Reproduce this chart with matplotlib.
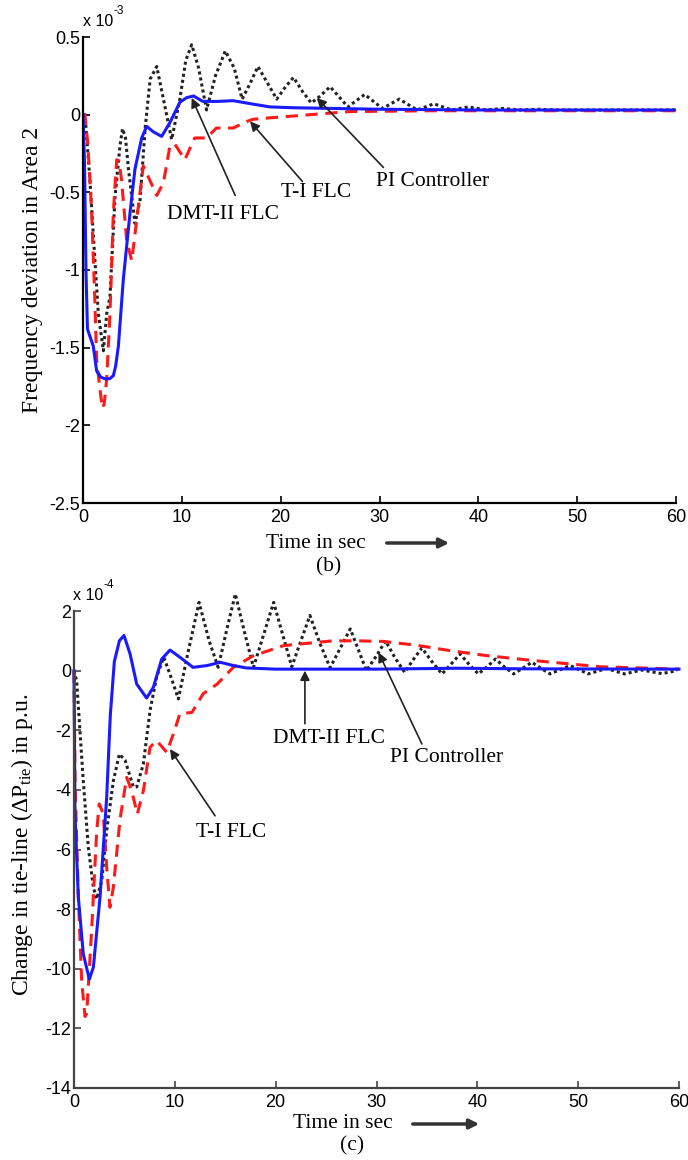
import matplotlib.pyplot as plt

plt.rcParams['font.family'] = 'Liberation Sans'
plt.rcParams['axes.unicode_minus'] = False
plt.rcParams['mathtext.fontset'] = 'custom'
plt.rcParams['mathtext.rm'] = 'Liberation Serif'
plt.rcParams['mathtext.it'] = 'Liberation Serif:italic'

# ---- (b) frequency deviation in area 2, values in 1e-3 ----
dmt_b_t = [0, 0.15, 0.3, 0.45, 1.04, 1.38, 1.8, 2.23, 2.7, 3.07, 3.3, 3.58, 4.08, 4.76, 5.26, 5.94, 6.44,
           7.1, 7.96, 8.8, 9.8, 10.5, 11.2, 12.1, 13.5, 15.2, 17, 18.9, 21, 25.3, 30, 40, 50, 60]
dmt_b_v = [0, -0.3, -1.0, -1.38, -1.49, -1.65, -1.69, -1.70, -1.70, -1.68, -1.62, -1.49, -1.06, -0.63, -0.35,
           -0.15, -0.075, -0.11, -0.14, -0.05, 0.08, 0.11, 0.12, 0.086, 0.085, 0.09, 0.07, 0.05, 0.045, 0.04,
           0.035, 0.03, 0.03, 0.03]

ti_b_t = [0, 0.2, 0.5, 0.88, 1.2, 1.38, 1.72, 1.96, 2.15, 2.4, 2.73, 3.07, 3.41, 3.65, 3.9, 4.42, 4.93, 5.43,
          6.1, 6.6, 7.46, 8.13, 8.8, 9.3, 10.3, 11.3, 12.5, 13.5, 14.5, 15.2, 16.6, 17.2, 19, 22, 27, 35, 45, 60]
ti_b_v = [0, 0, -0.2, -0.63, -1.2, -1.58, -1.77, -1.89, -1.86, -1.70, -1.28, -0.63, -0.29, -0.30, -0.42, -0.81,
          -0.94, -0.68, -0.33, -0.40, -0.52, -0.44, -0.20, -0.19, -0.29, -0.15, -0.15, -0.086, -0.086, -0.086,
          -0.043, -0.03, -0.02, -0.005, 0.02, 0.025, 0.025, 0.025]

pi_b_t = [0, 0.2, 0.7, 1.04, 1.55, 2.06, 2.4, 2.73, 3.24, 3.74, 4.0, 4.3, 4.6, 5.26, 5.77, 6.3, 6.8, 7.46, 8.2,
          8.97, 9.8, 10.4, 11.0, 11.7, 12.5, 13.4, 14.4, 15.3, 16.1, 16.9, 17.7, 18.7, 19.6, 20.5, 21.3, 22.2,
          23.1, 24.0, 25.0, 26.8, 28.5, 30.3, 32.0, 33.8, 35.5, 37.3, 39.0, 40.8, 42.5, 44.3, 46.0, 48, 50, 55, 60]
pi_b_v = [0, 0, -0.42, -0.77, -1.28, -1.52, -1.28, -1.17, -0.53, -0.2, -0.09, -0.15, -0.35, -0.70, -0.55, -0.08,
          0.23, 0.31, 0.08, -0.16, 0.1, 0.35, 0.45, 0.3, 0.03, 0.25, 0.41, 0.3, 0.1, 0.2, 0.31, 0.2, 0.1, 0.18,
          0.24, 0.15, 0.075, 0.12, 0.18, 0.05, 0.13, 0.04, 0.1, 0.03, 0.07, 0.03, 0.05, 0.03, 0.04, 0.03, 0.035,
          0.03, 0.03, 0.03, 0.03]

# ---- (c) tie-line power change, values in 1e-4 ----
dmt_c_t = [0, 0.1, 0.43, 0.92, 1.52, 1.92, 2.58, 3.24, 3.6, 4.0, 4.5, 4.96, 5.56, 6.22, 7.2, 7.87, 8.7, 9.52,
           10.5, 11.8, 13.2, 14.5, 15.8, 17.1, 20, 30, 38, 45, 60]
dmt_c_v = [0, -4.8, -7.6, -9.5, -10.35, -9.95, -7.6, -4.25, -1.5, 0.3, 1.0, 1.18, 0.56, -0.45, -0.92, -0.56,
           0.39, 0.69, 0.45, 0.11, 0.17, 0.28, 0.17, 0.09, 0.05, 0.05, 0.08, 0.06, 0.05]

ti_c_t = [0, 0.1, 0.43, 0.76, 1.09, 1.26, 1.75, 2.25, 2.5, 2.9, 3.24, 3.57, 3.9, 4.56, 5.22, 5.72, 6.28, 6.88,
          7.54, 8.2, 9.2, 9.85, 10.5, 11.7, 12.8, 14.2, 15.8, 17.8, 20.8, 25.7, 28, 30.7, 34, 37.3, 41, 45.5,
          52.2, 60]
ti_c_v = [0, -3.7, -7.6, -10.4, -11.6, -11.5, -8.7, -5.4, -4.47, -4.8, -6.6, -7.94, -7.27, -5.0, -3.58, -4.03,
          -4.81, -4.03, -2.57, -2.35, -2.74, -2.13, -1.45, -1.4, -0.78, -0.45, 0.11, 0.5, 0.84, 1.0, 1.0, 0.98,
          0.85, 0.67, 0.5, 0.34, 0.13, 0.05]

pi_c_t = [0, 0.26, 0.92, 1.42, 1.92, 2.25, 2.75, 3.24, 3.9, 4.5, 5.06, 5.88, 6.22, 6.88, 7.54, 8.2, 8.9, 9.6,
          10.35, 11.3, 12.4, 13.4, 14.3, 15.1, 16.0, 16.9, 17.8, 18.8, 19.8, 20.7, 21.6, 22.5, 23.4, 24.4, 25.4,
          26.4, 27.4, 28.2, 29.0, 30.0, 30.9, 31.8, 32.8, 33.6, 34.5, 35.5, 36.5, 37.4, 38.3, 39.2, 40.1, 41.0,
          41.8, 42.7, 43.6, 44.5, 45.4, 46.3, 47.2, 48.2, 49.2, 50.1, 51.0, 52.8, 54.6, 56.3, 58.3, 59.8]
pi_c_v = [0, -0.34, -3.7, -5.93, -7.27, -7.66, -7.05, -5.37, -3.7, -2.8, -3.0, -3.9, -3.9, -3.13, -1.34, -0.2,
          0.45, -0.2, -0.95, 0.6, 2.29, 1.0, 0.11, 1.3, 2.57, 1.3, 0.11, 1.2, 2.29, 1.2, 0.13, 1.0, 1.85, 0.9, 0.1,
          0.75, 1.4, 0.7, 0.0, 0.5, 1.0, 0.45, -0.06, 0.35, 0.76, 0.3, -0.11, 0.22, 0.56, 0.2, -0.11, 0.14, 0.39,
          0.12, -0.11, 0.08, 0.28, 0.08, -0.11, 0.03, 0.17, 0.03, -0.11, 0.07, -0.11, 0.02, -0.1, 0.0]

W, H = 688, 1160
fig = plt.figure(figsize=(W / 100, H / 100), dpi=100)


def px(x, y):
    # figure pixel (from top-left) -> figure fraction
    return x / W, 1 - y / H


def make_axes(l, t, r, b):
    return fig.add_axes([l / W, 1 - b / H, (r - l) / W, (b - t) / H])


def style(ax, ylo, yhi, ystep, spine_color):
    ax.set_xlim(0, 60)
    ax.set_ylim(ylo, yhi)
    ax.set_xticks(range(0, 61, 10))
    yt = []
    v = ylo
    while v <= yhi + 1e-9:
        yt.append(round(v, 3))
        v += ystep
    ax.set_yticks(yt)
    ax.set_yticklabels(['%g' % y for y in yt])
    for s in ['top', 'right']:
        ax.spines[s].set_visible(False)
    for s in ['left', 'bottom']:
        ax.spines[s].set_color(spine_color)
        ax.spines[s].set_linewidth(1.6)
    ax.tick_params(direction='in', length=5, width=1.2, colors=spine_color, labelcolor='black', labelsize=13)
    ax.tick_params(axis='x', pad=4)
    ax.tick_params(axis='y', pad=2)


serif = 'Liberation Serif'
arrow_kw = dict(arrowstyle='-|>', color='#222222', lw=1.2, mutation_scale=14, shrinkA=0, shrinkB=0)

# ---------------- panel (b) ----------------
ax1 = make_axes(83, 37, 676, 503)
ax1.plot(pi_b_t, pi_b_v, color='#222222', lw=2.2, ls=(0, (1, 1)))
ax1.plot(ti_b_t, ti_b_v, color='#ff1a1a', lw=2.2, ls=(0, (4, 2.5)))
ax1.plot(dmt_b_t, dmt_b_v, color='#1a1aff', lw=2.2)
style(ax1, -2.5, 0.5, 0.5, 'black')

ax1.annotate('', xy=(11.0, 0.108), xytext=(15.4, -0.52), arrowprops=arrow_kw)
ax1.text(14.2, -0.645, 'DMT-II FLC', family=serif, size=15.5, ha='center', va='center')
ax1.annotate('', xy=(16.9, -0.043), xytext=(22.2, -0.43), arrowprops=arrow_kw)
ax1.text(23.6, -0.50, 'T-I FLC', family=serif, size=15.5, ha='center', va='center')
ax1.annotate('', xy=(23.65, 0.108), xytext=(30.4, -0.34), arrowprops=arrow_kw)
ax1.text(35.4, -0.43, 'PI Controller', family=serif, size=15.5, ha='center', va='center')

fig.text(*px(83, 22), 'x 10', size=11.5, ha='left', va='center')
fig.text(*px(114, 11), '-3', size=8.5, ha='left', va='center')
fig.text(*px(33, 270), 'Frequency deviation in Area 2', family=serif, size=17,
         rotation=90, ha='center', va='center')
fig.text(*px(316, 543), 'Time in sec', family=serif, size=15.5, ha='center', va='center')
fig.text(*px(329, 567), '(b)', family=serif, size=15.5, ha='center', va='center')
fig.add_artist(plt.matplotlib.patches.FancyArrowPatch(
    px(384, 543), px(452, 543), transform=fig.transFigure,
    arrowstyle='-|>', color='#333333', lw=2.5, mutation_scale=14))

# ---------------- panel (c) ----------------
ax2 = make_axes(74, 611, 679, 1088)
ax2.plot(pi_c_t, pi_c_v, color='#222222', lw=2.2, ls=(0, (1, 1)), clip_on=False)
ax2.plot(ti_c_t, ti_c_v, color='#ff1a1a', lw=2.2, ls=(0, (4, 2.5)), clip_on=False)
ax2.plot(dmt_c_t, dmt_c_v, color='#1a1aff', lw=2.2, clip_on=False)
style(ax2, -14, 2, 2, '#444444')

ax2.annotate('', xy=(22.9, 0.0), xytext=(22.9, -1.78), arrowprops=arrow_kw)
ax2.text(25.3, -2.28, 'DMT-II FLC', family=serif, size=15.5, ha='center', va='center')
ax2.annotate('', xy=(30.2, 0.61), xytext=(34.5, -2.46), arrowprops=arrow_kw)
ax2.text(36.95, -2.92, 'PI Controller', family=serif, size=15.5, ha='center', va='center')
ax2.annotate('', xy=(9.52, -2.63), xytext=(13.99, -4.87), arrowprops=arrow_kw)
ax2.text(15.6, -5.44, 'T-I FLC', family=serif, size=15.5, ha='center', va='center')

fig.text(*px(73, 595), 'x 10', size=11.5, ha='left', va='center')
fig.text(*px(104, 585), '-4', size=8.5, ha='left', va='center')
fig.text(*px(22, 845), r'Change in tie-line ($\Delta$P$_{\mathrm{tie}}$) in p.u.', family=serif, size=17,
         rotation=90, ha='center', va='center')
fig.text(*px(343, 1123), 'Time in sec', family=serif, size=15.5, ha='center', va='center')
fig.text(*px(352, 1146), '(c)', family=serif, size=15.5, ha='center', va='center')
fig.add_artist(plt.matplotlib.patches.FancyArrowPatch(
    px(410, 1124), px(482, 1124), transform=fig.transFigure,
    arrowstyle='-|>', color='#333333', lw=2.5, mutation_scale=14))

fig.savefig('out.png', dpi=100)
